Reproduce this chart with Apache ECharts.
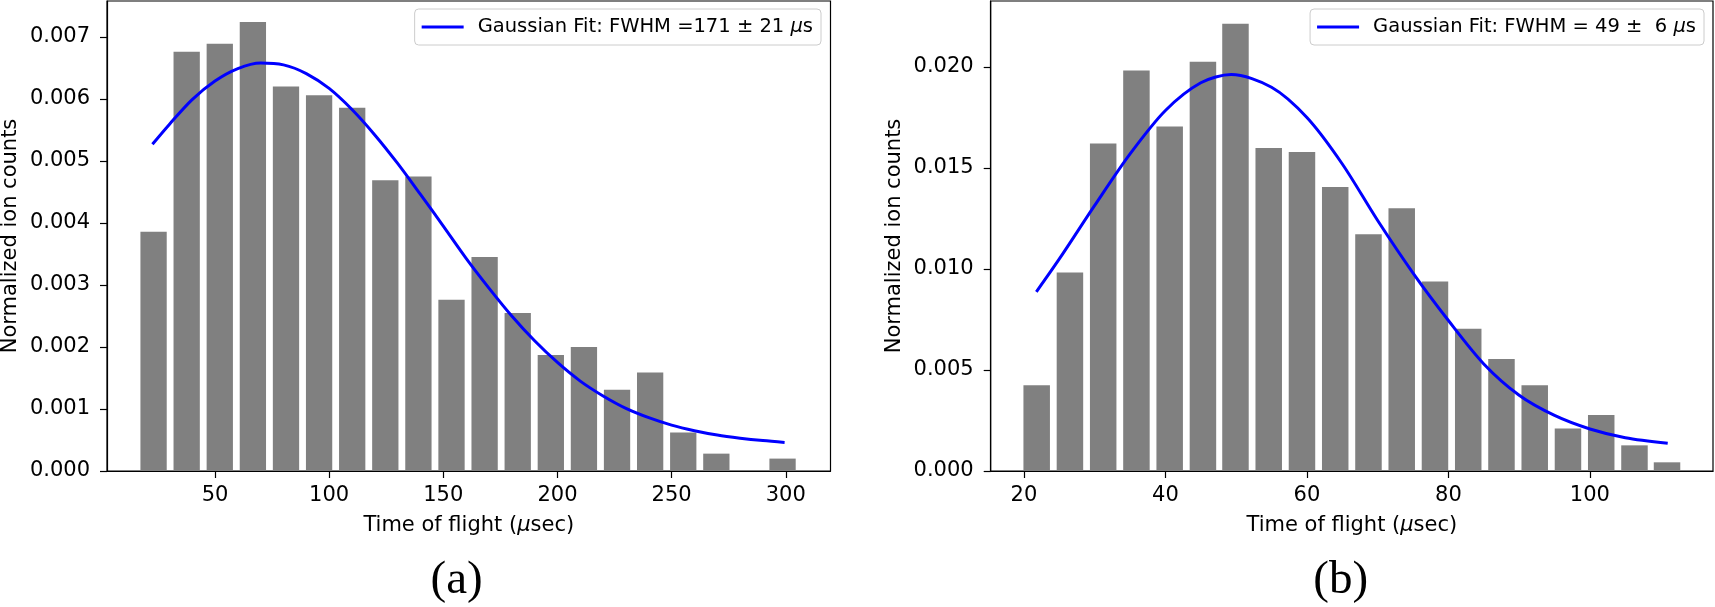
<!DOCTYPE html>
<html>
<head>
<meta charset="utf-8">
<title>Time of flight histograms</title>
<script src="https://cdn.jsdelivr.net/npm/echarts@6.0.0/dist/echarts.min.js"></script>
<style>
	html, body { margin: 0; padding: 0; background: #ffffff; }
	#chart { width: 1715px; height: 607px; }
</style>
</head>
<body>
<div id="chart"></div>
<script>
// (a) 直方图 bin 中心 / 归一化计数
var binsA = [23.1, 37.6, 52.1, 66.6, 81.1, 95.6, 110.1, 124.6, 139.1, 153.6, 168.1, 182.6, 197.1, 211.6, 226.1, 240.6, 255.1, 269.6, 284.1, 298.6];
var countsA = [0.00386, 0.00676, 0.00689, 0.00724, 0.00620, 0.00606, 0.00586, 0.00469, 0.00475, 0.00276, 0.00345, 0.00255, 0.00187, 0.00200, 0.00131, 0.00159, 0.00062, 0.00028, 0, 0.00020];
// (a) gaussian fit
var fitXA = [22.6, 30, 40, 50, 60, 70, 80, 90, 100, 110, 120, 130, 140, 150, 160, 170, 180, 190, 200, 210, 220, 230, 240, 250, 260, 270, 280, 290, 299.5];
var fitYA = [0.00527, 0.00559, 0.00599, 0.00629, 0.00649, 0.00658, 0.00655, 0.00641, 0.00617, 0.00583, 0.00542, 0.00496, 0.00446, 0.00395, 0.00343, 0.00295, 0.00250, 0.00210, 0.00175, 0.00145, 0.00121, 0.00101, 0.00086, 0.00074, 0.00065, 0.00058, 0.00053, 0.00049, 0.00046];

// (b)
var binsB = [21.8, 26.5, 31.2, 35.9, 40.6, 45.3, 49.9, 54.6, 59.3, 64.0, 68.7, 73.4, 78.1, 82.8, 87.5, 92.2, 96.9, 101.6, 106.3, 110.9];
var countsB = [0.00425, 0.00983, 0.01621, 0.01983, 0.01706, 0.02026, 0.02214, 0.01599, 0.01579, 0.01406, 0.01172, 0.01301, 0.00938, 0.00704, 0.00554, 0.00425, 0.00211, 0.00277, 0.00127, 0.00043];
var fitXB = [21.75, 25, 30, 35, 40, 45, 49.3, 55, 60, 65, 70, 75, 80, 85, 90, 95, 100, 105, 111];
var fitYB = [0.00887, 0.01050, 0.01315, 0.01570, 0.01785, 0.01922, 0.01963, 0.01900, 0.01750, 0.01520, 0.01240, 0.00980, 0.00745, 0.00530, 0.00375, 0.00275, 0.00208, 0.00165, 0.00137];

// tick labels
var xTicksA = [50, 100, 150, 200, 250, 300];
var yTicksA = [0, 0.001, 0.002, 0.003, 0.004, 0.005, 0.006, 0.007];
var xTicksB = [20, 40, 60, 80, 100];
var yTicksB = [0, 0.005, 0.010, 0.015, 0.020];

var legendA = 'Gaussian Fit: FWHM =171 \u00b1 21 \u03bcs';
var legendB = 'Gaussian Fit: FWHM = 49 \u00b1  6 \u03bcs';
var xName = 'Time of flight ({i|\u03bc}sec)';
var yName = 'Normalized ion counts';

var FONT = '"DejaVu Sans", sans-serif';

function pairs(xs, ys) {
	var out = [];
	for (var i = 0; i < xs.length; i++) {
		out.push([xs[i], ys[i]]);
	}
	return out;
}

function italicMu(name) {
	return name.replace('\u03bc', '{i|\u03bc}');
}

function xAxisCfg(gridIndex, min, max, ticks) {
	return {
		type: 'value',
		gridIndex: gridIndex,
		min: min,
		max: max,
		name: xName,
		nameLocation: 'middle',
		nameGap: 44.5,
		nameTextStyle: {
			fontFamily: FONT, fontSize: 21, color: '#000',
			rich: { i: { fontFamily: FONT, fontSize: 21, fontStyle: 'italic', color: '#000' } }
		},
		axisLine: { show: true, onZero: false, lineStyle: { color: '#000', width: 1.2 } },
		axisTick: { show: true, length: 7, customValues: ticks, lineStyle: { color: '#000', width: 1.2 } },
		axisLabel: { margin: 14, fontFamily: FONT, fontSize: 21, color: '#000', customValues: ticks },
		splitLine: { show: false }
	};
}

function yAxisCfg(gridIndex, max, ticks) {
	return {
		type: 'value',
		gridIndex: gridIndex,
		min: 0,
		max: max,
		name: yName,
		nameLocation: 'middle',
		nameGap: 86,
		nameTextStyle: { fontFamily: FONT, fontSize: 21, color: '#000' },
		axisLine: { show: true, lineStyle: { color: '#000', width: 1.2 } },
		axisTick: { show: true, length: 7, customValues: ticks, lineStyle: { color: '#000', width: 1.2 } },
		axisLabel: {
			margin: 17, fontFamily: FONT, fontSize: 21, color: '#000', customValues: ticks,
			formatter: function(v) { return v.toFixed(3); }
		},
		splitLine: { show: false }
	};
}

function legendCfg(name, right) {
	return {
		data: [name],
		right: right,
		top: 9,
		orient: 'horizontal',
		icon: 'rect',
		itemWidth: 42,
		itemHeight: 3,
		padding: [8, 8, 8, 7],
		backgroundColor: 'rgba(255,255,255,0.8)',
		borderColor: '#cccccc',
		borderWidth: 1,
		borderRadius: 4,
		selectedMode: false,
		formatter: italicMu,
		textStyle: {
			fontFamily: FONT, fontSize: 19.5, color: '#000', padding: [0, 0, 0, 9],
			rich: { i: { fontFamily: FONT, fontSize: 19.5, fontStyle: 'italic', color: '#000' } }
		}
	};
}

var chart = echarts.init(document.getElementById('chart'), null, { renderer: 'canvas' });

var option = {
	animation: false,
	backgroundColor: '#ffffff',
	grid: [
		{ left: 107, right: 884.5, top: 1, bottom: 136, show: true, borderColor: '#000', borderWidth: 1.2, containLabel: false, outerBoundsMode: 'none' },
		{ left: 990.7, right: 2, top: 1, bottom: 136, show: true, borderColor: '#000', borderWidth: 1.2, containLabel: false, outerBoundsMode: 'none' }
	],
	xAxis: [
		xAxisCfg(0, 2.7, 319.6, xTicksA),
		xAxisCfg(1, 15.3, 117.4, xTicksB)
	],
	yAxis: [
		yAxisCfg(0, 0.00758, yTicksA),
		yAxisCfg(1, 0.02327, yTicksB)
	],
	legend: [
		legendCfg(legendA, 894),
		legendCfg(legendB, 11)
	],
	graphic: [
		{ type: 'text', x: 456.6, y: 581, style: { text: '(a)', fill: '#000', font: '47px "Liberation Serif", serif', align: 'center', verticalAlign: 'middle' } },
		{ type: 'text', x: 1340.7, y: 581, style: { text: '(b)', fill: '#000', font: '47px "Liberation Serif", serif', align: 'center', verticalAlign: 'middle' } }
	],
	series: [
		{
			type: 'bar', xAxisIndex: 0, yAxisIndex: 0,
			data: pairs(binsA, countsA),
			barWidth: 26.3,
			itemStyle: { color: '#808080' },
			z: 2
		},
		{
			name: legendA, type: 'line', xAxisIndex: 0, yAxisIndex: 0,
			data: pairs(fitXA, fitYA),
			smooth: 0.3, showSymbol: false, symbol: 'none',
			color: '#0000ff',
			lineStyle: { color: '#0000ff', width: 3 },
			z: 3
		},
		{
			type: 'bar', xAxisIndex: 1, yAxisIndex: 1,
			data: pairs(binsB, countsB),
			barWidth: 26.5,
			itemStyle: { color: '#808080' },
			z: 2
		},
		{
			name: legendB, type: 'line', xAxisIndex: 1, yAxisIndex: 1,
			data: pairs(fitXB, fitYB),
			smooth: 0.3, showSymbol: false, symbol: 'none',
			color: '#0000ff',
			lineStyle: { color: '#0000ff', width: 3 },
			z: 3
		}
	]
};

chart.setOption(option);
</script>
</body>
</html>
